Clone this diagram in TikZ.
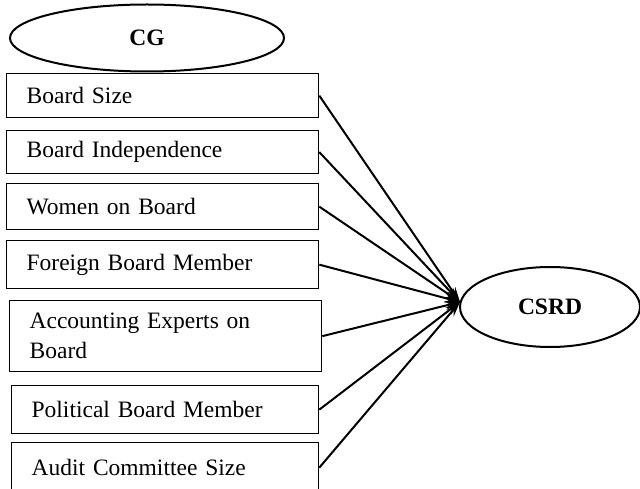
\documentclass[tikz,border=0pt]{standalone}
\usepackage{fontspec}
\setmainfont{Liberation Serif}
\usetikzlibrary{arrows.meta,shapes.geometric}

\tikzset{
	BoxStyle/.style = {draw, rectangle, line width=1.3pt, anchor=north west,
		inner xsep=20pt, align=left, font=\fontsize{23.5}{30}\selectfont},
	OvalStyle/.style = {draw, ellipse, line width=2pt, inner sep=0pt,
		font=\fontsize{23.5}{28}\selectfont\bfseries},
	EdgeStyle/.style = {-{Stealth[length=15pt,width=9pt]}, line width=2pt}
}

\begin{document}
\begin{tikzpicture}[x=1pt, y=-1pt]
	\useasboundingbox (0,0) rectangle (640,489);
	\clip (0,0) rectangle (640,489);
	\node[OvalStyle, minimum width=274pt, minimum height=67pt] (cg) at (147,38) {CG};
	\node[OvalStyle, minimum width=180pt, minimum height=80pt] (csrd) at (550,307) {CSRD};
	\begin{scope}[BoxStyle/.append style = {text width=272pt}]
		\node[BoxStyle, minimum height=44pt] (size) at (6,73) {Board Size};
		\node[BoxStyle, minimum height=43pt] (indep) at (6,130) {Board Independence};
		\node[BoxStyle, minimum height=46pt] (women) at (6,183) {Women on Board};
		\node[BoxStyle, minimum height=48pt] (foreign) at (6,240) {Foreign Board Member};
		\node[BoxStyle, minimum height=71pt] (acct) at (9,300) {Accounting Experts on\\Board};
	\end{scope}
	\begin{scope}[BoxStyle/.append style = {text width=267pt}]
		\node[BoxStyle, minimum height=48pt] (polit) at (11,385) {Political Board Member};
		\node[BoxStyle, minimum height=50pt] (audit) at (11,442) {Audit Committee Size};
	\end{scope}
	\coordinate (tip) at (460,302);
	\foreach \v in {size,indep,women,foreign,acct,polit,audit}
		\draw[EdgeStyle] (\v.east) -- (tip);
\end{tikzpicture}
\end{document}
